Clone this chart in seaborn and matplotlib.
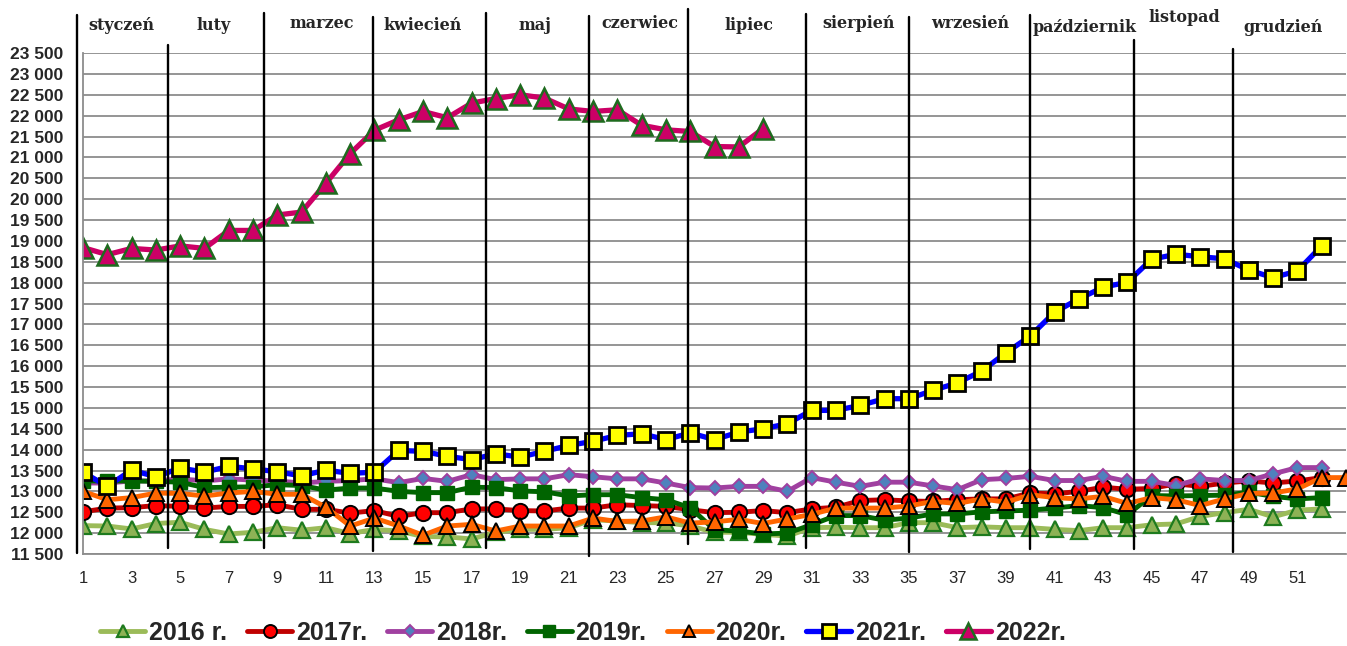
"""
Weekly values 2016-2022 with month separators (Polish month names)
"""

import matplotlib
matplotlib.use("Agg")
import matplotlib.pyplot as plt
import matplotlib.transforms as mtransforms
import seaborn as sns

# ---- data ----
weeks_2016 = list(range(1, 53))
v2016 = [12180, 12170, 12100, 12230, 12260, 12090, 11980, 12020, 12130, 12070,
         12130, 11990, 12090, 12050, 11920, 11910, 11860, 12020, 12090, 12090,
         12130, 12320, 12290, 12250, 12250, 12170, 12020, 12020, 11970, 11930,
         12130, 12140, 12130, 12130, 12250, 12250, 12130, 12150, 12130, 12130,
         12090, 12060, 12130, 12130, 12200, 12220, 12400, 12490, 12570, 12390,
         12550, 12580]
v2017 = [12510, 12600, 12610, 12660, 12640, 12600, 12640, 12640, 12680, 12570,
         12570, 12480, 12540, 12400, 12490, 12490, 12580, 12580, 12540, 12530,
         12600, 12600, 12680, 12660, 12640, 12560, 12490, 12500, 12540, 12490,
         12580, 12620, 12780, 12800, 12770, 12760, 12800, 12820, 12820, 12960,
         12940, 13000, 13100, 13050, 13070, 13180, 13120, 13200, 13250, 13200,
         13250, 13330]
v2018 = [13200, 13200, 13250, 13250, 13300, 13250, 13300, 13270, 13250, 13200,
         13240, 13260, 13300, 13210, 13310, 13240, 13400, 13280, 13300, 13300,
         13400, 13350, 13300, 13300, 13200, 13090, 13080, 13120, 13120, 13000,
         13330, 13220, 13120, 13220, 13220, 13130, 13040, 13280, 13310, 13360,
         13260, 13260, 13360, 13240, 13240, 13140, 13300, 13260, 13260, 13420,
         13570, 13570]
v2019 = [13250, 13250, 13250, 13240, 13220, 13090, 13100, 13110, 13160, 13140,
         13030, 13080, 13080, 13000, 12970, 12970, 13100, 13090, 13010, 12990,
         12890, 12920, 12920, 12850, 12800, 12610, 12080, 12050, 11980, 12000,
         12200, 12420, 12420, 12310, 12360, 12460, 12460, 12510, 12530, 12550,
         12600, 12660, 12610, 12440, 12900, 12890, 12900, 12910, 12980, 12880,
         12820, 12850]
weeks_2020 = list(range(1, 54))
v2020 = [13000, 12800, 12850, 12960, 12950, 12890, 12960, 13000, 12930, 12930,
         12620, 12170, 12360, 12170, 11950, 12170, 12210, 12050, 12170, 12170,
         12170, 12360, 12280, 12290, 12390, 12240, 12270, 12330, 12230, 12340,
         12450, 12600, 12600, 12600, 12650, 12760, 12710, 12820, 12740, 12920,
         12850, 12820, 12880, 12710, 12850, 12800, 12660, 12820, 12950, 12960,
         13060, 13330, 13330]
v2021 = [13460, 13120, 13510, 13350, 13560, 13460, 13600, 13540, 13470, 13370,
         13510, 13430, 13460, 13980, 13960, 13840, 13760, 13900, 13820, 13960,
         14100, 14200, 14340, 14380, 14240, 14400, 14240, 14420, 14500, 14620,
         14940, 14940, 15060, 15220, 15220, 15420, 15600, 15880, 16320, 16720,
         17290, 17610, 17890, 18010, 18560, 18680, 18620, 18570, 18300, 18120,
         18280, 18880]
weeks_2022 = list(range(1, 30))
v2022 = [18840, 18670, 18820, 18780, 18880, 18820, 19250, 19250, 19620, 19690,
         20380, 21090, 21650, 21900, 22100, 21950, 22300, 22410, 22500, 22420,
         22160, 22100, 22140, 21770, 21660, 21620, 21260, 21250, 21690]

months = ['styczeń', 'luty', 'marzec', 'kwiecień', 'maj', 'czerwiec', 'lipiec',
          'sierpień', 'wrzesień', 'październik', 'listopad', 'grudzień']
y_ticks = list(range(11500, 24000, 500))
x_ticks = list(range(1, 52, 2))

# ---- layout helpers (positions, not data) ----
W, H = 1347, 646
sep_weeks = [0.75, 4.50, 8.45, 12.94, 17.60, 21.84, 25.92, 30.78, 35.02, 40.00, 44.29, 48.36]
sep_top_px = [15, 45, 13, 17, 13, 16, 9, 14, 17, 15, 40, 49]
sep_bot_px = [553, 548, 548, 551, 548, 556, 544, 548, 552, 549, 549, 552]
month_x_px = [121, 214, 322, 423, 535, 640, 749, 859, 970, 1085, 1184, 1283]
month_y_px = [25, 25, 23, 25, 25, 23, 25, 23, 23, 27, 18, 27]

series = [
    ('2016 r.', weeks_2016, v2016, dict(color='#9BBB59', marker='^', markersize=11,
                                        markerfacecolor='#8DB255', markeredgecolor='#1E7B1E',
                                        markeredgewidth=1.6, linewidth=3.5)),
    ('2017r.', weeks_2016, v2017, dict(color='#C00000', marker='o', markersize=11,
                                       markerfacecolor='#FF0000', markeredgecolor='black',
                                       markeredgewidth=1.4, linewidth=3.5)),
    ('2018r.', weeks_2016, v2018, dict(color='#A040A0', marker='D', markersize=7.5,
                                       markerfacecolor='#4F81BD', markeredgecolor='#A040A0',
                                       markeredgewidth=1.4, linewidth=3.5)),
    ('2019r.', weeks_2016, v2019, dict(color='#006400', marker='s', markersize=9.5,
                                       markerfacecolor='#006400', markeredgecolor='#006400',
                                       markeredgewidth=1.0, linewidth=3.5)),
    ('2020r.', weeks_2020, v2020, dict(color='#FF6600', marker='^', markersize=11,
                                       markerfacecolor='#FF6600', markeredgecolor='black',
                                       markeredgewidth=1.4, linewidth=3.5)),
    ('2021r.', weeks_2016, v2021, dict(color='#0000FF', marker='s', markersize=11.5,
                                       markerfacecolor='#FFFF00', markeredgecolor='black',
                                       markeredgewidth=2.0, linewidth=3.8)),
    ('2022r.', weeks_2022, v2022, dict(color='#CC0066', marker='^', markersize=14,
                                       markerfacecolor='#CC0066', markeredgecolor='#1E6B1E',
                                       markeredgewidth=1.8, linewidth=3.8)),
]

sns.set_style('white')
plt.rcParams['font.family'] = ['Liberation Sans', 'DejaVu Sans']

fig = plt.figure(figsize=(W / 100, H / 100), dpi=100)
ax = fig.add_axes([83 / W, 1 - 554 / H, 1263 / W, 501 / H])

for label, xs, ys, style in series:
    sns.lineplot(x=xs, y=ys, ax=ax, label=label, sort=False, **style)

ax.set_xlim(1, 53)
ax.set_ylim(11500, 23500)
ax.set_yticks(y_ticks)
ax.set_yticklabels([f'{v:,}'.replace(',', ' ') for v in y_ticks],
                   fontsize=12.5, fontweight='bold')
ax.set_xticks(x_ticks)
ax.set_xticklabels([str(v) for v in x_ticks], fontsize=12)
ax.tick_params(axis='y', length=0, pad=14)
ax.tick_params(axis='x', length=0, pad=12)
ax.yaxis.grid(True, color='#8c8c8c', linewidth=1.3)
ax.xaxis.grid(False)
ax.set_axisbelow(True)
for side in ['top', 'right']:
    ax.spines[side].set_visible(False)
ax.spines['left'].set_color('#8c8c8c')
ax.spines['bottom'].set_color('#8c8c8c')
ax.spines['left'].set_linewidth(1.3)
ax.spines['bottom'].set_linewidth(1.3)
ax.set_xlabel('')
ax.set_ylabel('')

# month separators and names
blend = mtransforms.blended_transform_factory(ax.transData, fig.transFigure)
for xw, t, b in zip(sep_weeks, sep_top_px, sep_bot_px):
    ax.plot([xw, xw], [1 - t / H, 1 - b / H], transform=blend, color='black',
            linewidth=1.7, clip_on=False, zorder=5)
for name, mx, my in zip(months, month_x_px, month_y_px):
    fig.text(mx / W, 1 - my / H, name, ha='center', va='center',
             fontsize=11.5, fontweight='bold', family=['DejaVu Serif'])

handles, labels = ax.get_legend_handles_labels()
ax.get_legend().remove()
fig.legend(handles, labels, loc='center', bbox_to_anchor=(583 / W, 1 - 633 / H),
           ncol=7, frameon=False, prop={'size': 18, 'weight': 'bold'},
           handlelength=1.8, handletextpad=0.15, columnspacing=0.8, markerscale=0.85)

fig.savefig('out.png', dpi=100)
plt.close(fig)
